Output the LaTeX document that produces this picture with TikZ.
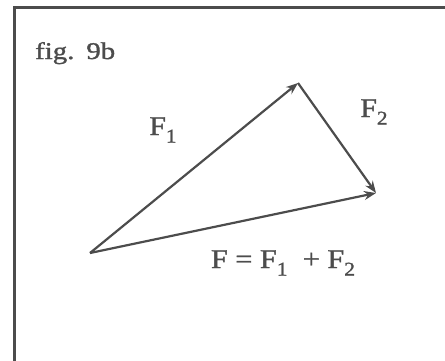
\documentclass[tikz,border=0pt]{standalone}
\usepackage{fontspec}
\setmainfont{Liberation Serif}[BoldFont={Liberation Serif},BoldFeatures={FakeBold=1.2}]
\usetikzlibrary{arrows.meta}
\definecolor{ink}{gray}{0.30}
\definecolor{txt}{gray}{0.30}
\newcommand{\sbx}[1]{\raisebox{-0.28em}{\scalebox{0.72}{#1}}}
\begin{document}
\begin{tikzpicture}[x=1pt,y=-1pt,
  vec/.style={draw=ink,line width=2.2pt,-{Stealth[length=12pt,width=9pt]}},
  lbl/.style={text=txt,font=\bfseries\fontsize{27}{30}\selectfont,inner sep=0pt},
  frame/.style={draw=ink,line width=3pt}]
\useasboundingbox (0,0) rectangle (445,360);
\begin{scope}
\clip (0,0) rectangle (445,360);
\draw[frame] (14.5,7.5) rectangle (470,390);
\end{scope}
\coordinate (O) at (90,253);
\coordinate (A) at (298,83);
\coordinate (B) at (376,193);
\draw[vec] (O) -- (A);
\draw[vec] (A) -- (B);
\draw[vec] (O) -- (B);
\node[lbl,anchor=base west,font=\bfseries\fontsize{24}{28}\selectfont] (fig) at (35,59) {\scalebox{1.2}[1]{fig.\ \,9b}};
\node[lbl,anchor=base] (f1) at (163,135) {\scalebox{1.1}[1]{F\sbx{1}}};
\node[lbl,anchor=base] (f2) at (374,117) {\scalebox{1.1}[1]{F\sbx{2}}};
\node[lbl,anchor=base] (f) at (283,268) {\scalebox{1.12}[1]{F = F\sbx{1}\ \ + F\sbx{2}}};
\end{tikzpicture}
\end{document}
